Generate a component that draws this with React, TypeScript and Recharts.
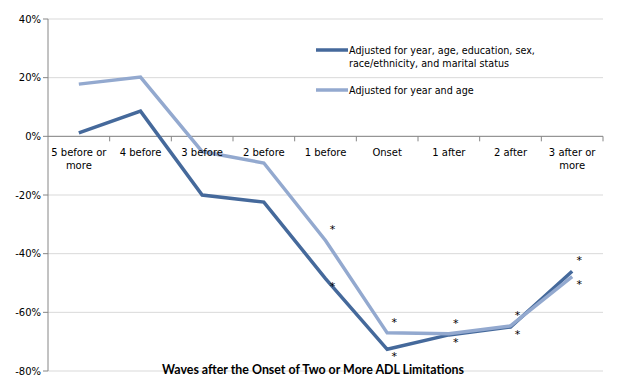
import { LineChart, Line, XAxis, YAxis, CartesianGrid, ReferenceLine, LabelList } from "recharts";

const categories = [
  "5 before or more",
  "4 before",
  "3 before",
  "2 before",
  "1 before",
  "Onset",
  "1 after",
  "2 after",
  "3 after or more",
];

// percent change, fully adjusted model
const adjustedAll = [1.2, 8.6, -20.0, -22.4, -48.5, -72.6, -67.7, -65.0, -46.0];
// percent change, year and age only
const adjustedYearAge = [17.8, 20.2, -5.2, -9.1, -35.5, -67.0, -67.3, -64.6, -47.8];

// significance markers (*)
const sigAll = [false, false, false, false, true, true, true, true, true];
const sigYearAge = [false, false, false, false, true, true, true, true, true];

const yTicks = [40, 20, 0, -20, -40, -60, -80];

const data = categories.map((name, i) => ({
  name,
  all: adjustedAll[i],
  yearAge: adjustedYearAge[i],
}));

const W = 617;
const H = 388;
const TOP = 19;
const BOTTOM = 17;
const LEFT = 48;
const RIGHT = 14;
const PLOT_H = H - TOP - BOTTOM;
const PLOT_W = W - LEFT - RIGHT;
const BAND = PLOT_W / categories.length;
const ZERO_Y = TOP + (PLOT_H * 40) / 120;

const DARK = "#45699b";
const LIGHT = "#93a9cf";
const FONT = "'DejaVu Sans', Verdana, sans-serif";

function wrap(label: string): string[] {
  if (label.length <= 10) return [label];
  const words = label.split(" ");
  return [words.slice(0, -1).join(" "), words[words.length - 1]];
}

function CategoryTick(props: any) {
  const { x, payload } = props;
  const lines = wrap(payload.value);
  return (
    <g>
      <line x1={x + BAND / 2} x2={x + BAND / 2} y1={ZERO_Y} y2={ZERO_Y + 5} stroke="#868686" />
      <text x={x} y={ZERO_Y + 20} textAnchor="middle" fontSize={10} fill="#000" fontFamily={FONT}>
        {lines.map((l, i) => (
          <tspan key={i} x={x} dy={i === 0 ? 0 : 13}>
            {l}
          </tspan>
        ))}
      </text>
    </g>
  );
}

function star(values: number[], other: number[], sig: boolean[]) {
  return (props: any) => {
    const { x, y, index } = props;
    if (!sig[index]) return null;
    const below = values[index] < other[index];
    return (
      <text
        x={x + 7}
        y={below ? y + 11 : y - 7}
        textAnchor="middle"
        fontSize={11}
        fill="#000"
        fontFamily={FONT}
      >
        *
      </text>
    );
  };
}

function LegendBox() {
  return (
    <svg width={260} height={60} style={{ position: "absolute", left: 316, top: 47, overflow: "visible" }}>
      <line x1={0} x2={32} y1={3} y2={3} stroke={DARK} strokeWidth={3.5} />
      <text x={33} y={7} fontSize={9.6} fontFamily={FONT} fill="#000">
        <tspan x={33}>Adjusted for year, age, education, sex,</tspan>
        <tspan x={33} dy={13}>race/ethnicity, and marital status</tspan>
      </text>
      <line x1={0} x2={32} y1={43} y2={43} stroke={LIGHT} strokeWidth={3.5} />
      <text x={33} y={47} fontSize={9.6} fontFamily={FONT} fill="#000">
        Adjusted for year and age
      </text>
    </svg>
  );
}

export default function App() {
  return (
    <div style={{ position: "absolute", left: 0, top: 0, width: W, height: H, background: "#fff" }}>
      <LineChart width={W} height={H} data={data} margin={{ top: TOP, right: RIGHT, bottom: 0, left: 0 }}>
        <CartesianGrid vertical={false} stroke="#d9d9d9" />
        <XAxis
          dataKey="name"
          axisLine={false}
          tickLine={false}
          height={BOTTOM}
          interval={0}
          padding={{ left: BAND / 2, right: BAND / 2 }}
          tick={<CategoryTick />}
          label={{
            content: () => (
              <text x={313} y={374} textAnchor="middle" fontSize={12.4} fontWeight="bold" fontFamily="Lato, sans-serif" fill="#000">
                Waves after the Onset of Two or More ADL Limitations
              </text>
            ),
          }}
        />
        <YAxis
          width={LEFT}
          domain={[-80, 40]}
          ticks={yTicks}
          interval={0}
          tickFormatter={(v: number) => `${v}%`}
          stroke="#868686"
          tickSize={5}
          tick={{ fontSize: 10, fill: "#000", fontFamily: FONT }}
        />
        <ReferenceLine y={0} stroke="#868686" />
        <Line
          dataKey="all"
          stroke={DARK}
          strokeWidth={3.5}
          dot={false}
          isAnimationActive={false}
        >
          <LabelList content={star(adjustedAll, adjustedYearAge, sigAll)} />
        </Line>
        <Line
          dataKey="yearAge"
          stroke={LIGHT}
          strokeWidth={3.5}
          dot={false}
          isAnimationActive={false}
        >
          <LabelList content={star(adjustedYearAge, adjustedAll, sigYearAge)} />
        </Line>
      </LineChart>
      <LegendBox />
    </div>
  );
}
